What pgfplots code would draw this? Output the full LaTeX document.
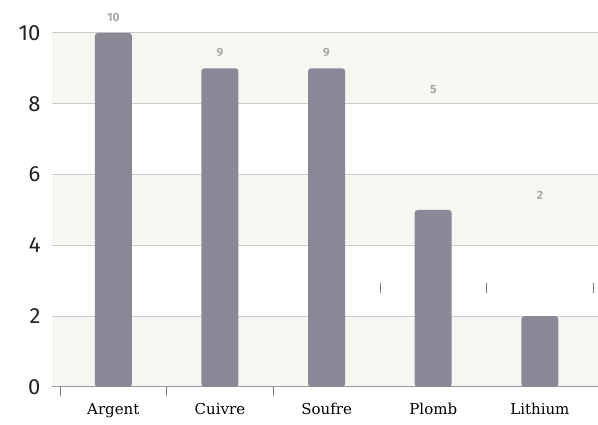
\documentclass[border=0pt]{standalone}
\usepackage{pgfplots}
\pgfplotsset{compat=1.18}
\usepackage{fontspec}
\setmainfont{Fira Sans}
\newfontfamily\slab{DejaVu Serif}
\definecolor{barc}{HTML}{8A8896}
\definecolor{band}{HTML}{F7F7F2}
\definecolor{gridc}{HTML}{CCCCCC}
\definecolor{axc}{HTML}{999999}
\definecolor{valc}{HTML}{A8A8A8}
\definecolor{tickc}{HTML}{222222}
\begin{document}
\begin{tikzpicture}
\begin{axis}[
  set layers,
  at={(0,0)}, anchor=south west,
  scale only axis,
  width=546pt, height=387pt,
  xmin=-0.575, xmax=4.545,
  ymin=0, ymax=10.93,
  axis lines*=left,
  y axis line style={draw=none},
  x axis line style={draw=axc, line width=1pt},
  ytick={0,2,4,6,8,10},
  xtick={0,1,2,3,4},
  xticklabels={Argent,Cuivre,Soufre,Plomb,Lithium},
  major tick length=0pt,
  ymajorgrids,
  grid style={draw=gridc, line width=1pt},
  yticklabel style={font=\fontsize{22}{24}\selectfont, text=tickc, xshift=-8pt},
  xticklabel style={font=\slab\fontsize{15}{18}\selectfont, text=black, yshift=-13pt},
  /pgf/number format/assume math mode=true,
  clip=false,
]
\begin{pgfonlayer}{axis background}
\fill[band] (axis cs:-0.575,0) rectangle (axis cs:4.545,2);
\fill[band] (axis cs:-0.575,4) rectangle (axis cs:4.545,6);
\fill[band] (axis cs:-0.575,8) rectangle (axis cs:4.545,10);
\end{pgfonlayer}
\addplot[ybar, bar width=37pt, fill=barc, draw=none, rounded corners=3pt, bar shift=0pt]
  coordinates {(0,10) (1,9) (2,9) (3,5) (4,2)};
\addplot[only marks, mark=none, nodes near coords, point meta=explicit symbolic,
  every node near coord/.style={font=\bfseries\fontsize{12}{14}\selectfont, text=valc, anchor=center}]
  coordinates {(0,10.45)[10] (1,9.46)[9] (2,9.46)[9] (3,8.39)[5] (4,5.42)[2]};
\draw[axc!80!black, line width=0.8pt] (axis cs:-0.5,0) -- ([yshift=-9pt]axis cs:-0.5,0);
\draw[axc!80!black, line width=0.8pt] (axis cs:0.5,0) -- ([yshift=-9pt]axis cs:0.5,0);
\draw[axc!80!black, line width=0.8pt] (axis cs:1.5,0) -- ([yshift=-9pt]axis cs:1.5,0);
\draw[axc!80!black, line width=0.8pt] (axis cs:2.5,2.66) -- (axis cs:2.5,2.94);
\draw[axc!80!black, line width=0.8pt] (axis cs:3.5,2.66) -- (axis cs:3.5,2.94);
\draw[axc!80!black, line width=0.8pt] (axis cs:4.5,2.66) -- (axis cs:4.5,2.94);
\end{axis}
\pgfresetboundingbox
\path[use as bounding box] (-52pt,-38pt) rectangle (546pt,387pt);
\end{tikzpicture}
\end{document}
